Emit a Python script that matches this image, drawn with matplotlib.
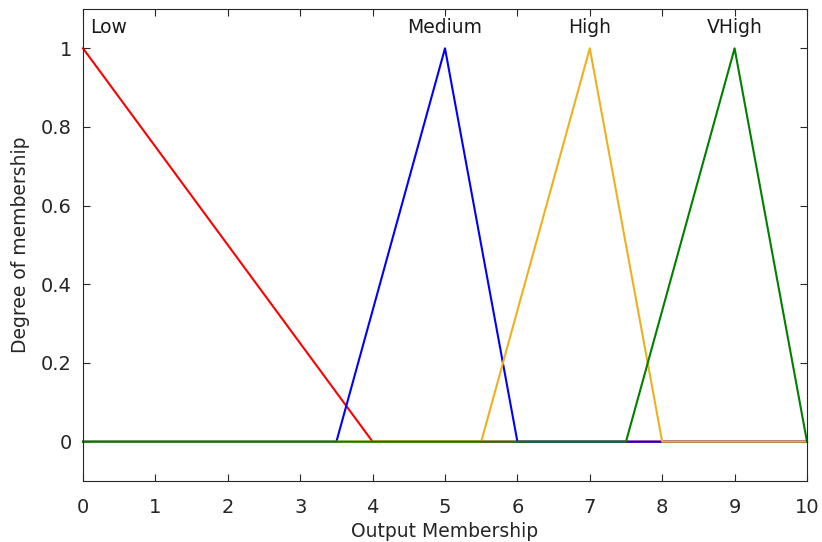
import numpy as np
import matplotlib.pyplot as plt

plt.rcParams['font.family'] = ['DejaVu Sans']

# membership functions: x breakpoints and degree values (drawn over 0..10)
names = ["Low", "Medium", "High", "VHigh"]
colors = ["#ff0000", "#0000ff", "#edb120", "#008000"]
mf_x = [
    [0, 4, 10],
    [0, 3.5, 5, 6, 10],
    [0, 5.5, 7, 8, 10],
    [0, 7.5, 9, 10],
]
mf_y = [
    [1, 0, 0],
    [0, 0, 1, 0, 0],
    [0, 0, 1, 0, 0],
    [0, 0, 1, 0],
]
label_x = [0.1, 5, 7, 9]
label_ha = ["left", "center", "center", "center"]

fig = plt.figure(figsize=(8.22, 5.42), dpi=100)
ax = fig.add_axes([83 / 822, 1 - 481 / 542, (807 - 83) / 822, (481 - 9) / 542])

for xs, ys, c in zip(mf_x, mf_y, colors):
    ax.plot(xs, ys, color=c, linewidth=1.5, clip_on=False)

for name, lx, ha in zip(names, label_x, label_ha):
    ax.text(lx, 1.028, name, ha=ha, va="bottom", fontsize=13.5, color="#1a1a1a")

ax.set_xlim(0, 10)
ax.set_ylim(-0.1, 1.1)
ax.set_xticks(np.arange(0, 11, 1))
ax.set_yticks([0, 0.2, 0.4, 0.6, 0.8, 1])
ax.set_yticklabels(["0", "0.2", "0.4", "0.6", "0.8", "1"])
ax.tick_params(direction="in", top=True, right=True, length=5, width=0.8,
               colors="#262626", labelsize=14)
ax.tick_params(axis="x", pad=12)
ax.tick_params(axis="y", pad=8)
for s in ax.spines.values():
    s.set_color("#262626")
    s.set_linewidth(0.8)

ax.set_xlabel("Output Membership", fontsize=13.5, color="#262626", labelpad=4)
ax.set_ylabel("Degree of membership", fontsize=13.5, color="#262626", labelpad=8)

fig.savefig("out.png", dpi=100)
